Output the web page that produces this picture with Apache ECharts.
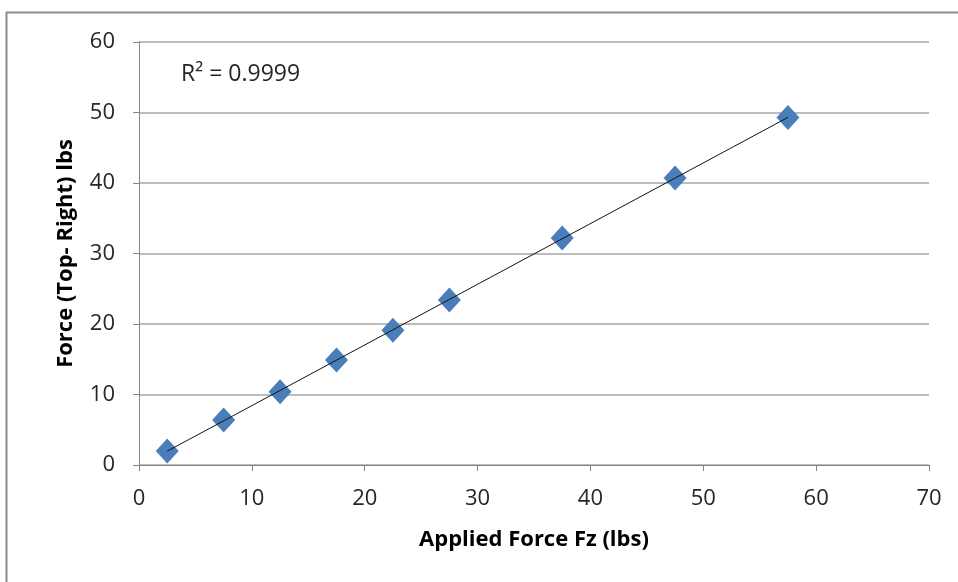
<!DOCTYPE html>
<html>
<head>
<meta charset="utf-8">
<script src="https://cdn.jsdelivr.net/npm/echarts@6/dist/echarts.min.js"></script>
<style>
  html, body { margin: 0; padding: 0; background: #fff; }
  #chart { width: 958px; height: 582px; }
</style>
</head>
<body>
<div id="chart"></div>
<script>
// applied force (x) vs measured force (y)
const appliedForce = [2.5, 7.5, 12.5, 17.5, 22.5, 27.5, 37.5, 47.5, 57.5];
const measuredForce = [2.0, 6.4, 10.4, 14.9, 19.1, 23.4, 32.2, 40.7, 49.3];
const xTicks = [0, 10, 20, 30, 40, 50, 60, 70];
const yTicks = [0, 10, 20, 30, 40, 50, 60];

// least squares fit for the trendline
const n = appliedForce.length;
let sx = 0, sy = 0, sxx = 0, sxy = 0;
for (let i = 0; i < n; i++) {
  sx += appliedForce[i]; sy += measuredForce[i];
  sxx += appliedForce[i] * appliedForce[i];
  sxy += appliedForce[i] * measuredForce[i];
}
const slope = (n * sxy - sx * sy) / (n * sxx - sx * sx);
const icpt = (sy - slope * sx) / n;
const x0 = appliedForce[0], x1 = appliedForce[n - 1];
const trend = [[x0, icpt + slope * x0], [x1, icpt + slope * x1]];

const font = '"Open Sans", "Liberation Sans", sans-serif';

const chart = echarts.init(document.getElementById('chart'), null, {renderer: 'canvas'});
chart.setOption({
  animation: false,
  grid: {left: 139, top: 42, right: 29, bottom: 117, containLabel: false},
  xAxis: {
    type: 'value', min: xTicks[0], max: xTicks[xTicks.length - 1], interval: 10,
    name: 'Applied Force Fz (lbs)', nameLocation: 'middle', nameGap: 64,
    nameTextStyle: {fontFamily: font, fontWeight: 'bold', fontSize: 22, color: '#000'},
    axisLine: {lineStyle: {color: '#868686', width: 1}},
    axisTick: {show: true, length: 6, lineStyle: {color: '#868686'}},
    axisLabel: {fontFamily: font, fontSize: 22, color: '#262626', margin: 23},
    splitLine: {show: false}
  },
  yAxis: {
    type: 'value', min: yTicks[0], max: yTicks[yTicks.length - 1], interval: 10,
    name: 'Force (Top- Right) lbs', nameLocation: 'middle', nameGap: 62,
    nameTextStyle: {fontFamily: font, fontWeight: 'bold', fontSize: 22, color: '#000'},
    axisLine: {show: true, lineStyle: {color: '#868686', width: 1}},
    axisTick: {show: true, length: 6, lineStyle: {color: '#868686'}},
    axisLabel: {fontFamily: font, fontSize: 22, color: '#262626', margin: 24},
    splitLine: {show: true, lineStyle: {color: '#a6a6a6', width: 1.5}}
  },
  graphic: [
    {type: 'rect', shape: {x: 6.5, y: 12.5, width: 1000, height: 1000},
     style: {fill: 'none', stroke: '#8c8c8c', lineWidth: 2}, silent: true},
    {type: 'text', left: 181, top: 63,
     style: {text: 'R² = 0.9999', font: '23px ' + font, fill: '#262626'}}
  ],
  series: [
    {
      type: 'line', data: trend, symbol: 'none', z: 3,
      lineStyle: {color: '#111', width: 1}
    },
    {
      type: 'scatter', z: 2,
      data: appliedForce.map((x, i) => [x, measuredForce[i]]),
      symbol: 'diamond', symbolSize: [23, 25],
      itemStyle: {color: '#4a7ebb', opacity: 1}
    }
  ]
});
</script>
</body>
</html>
